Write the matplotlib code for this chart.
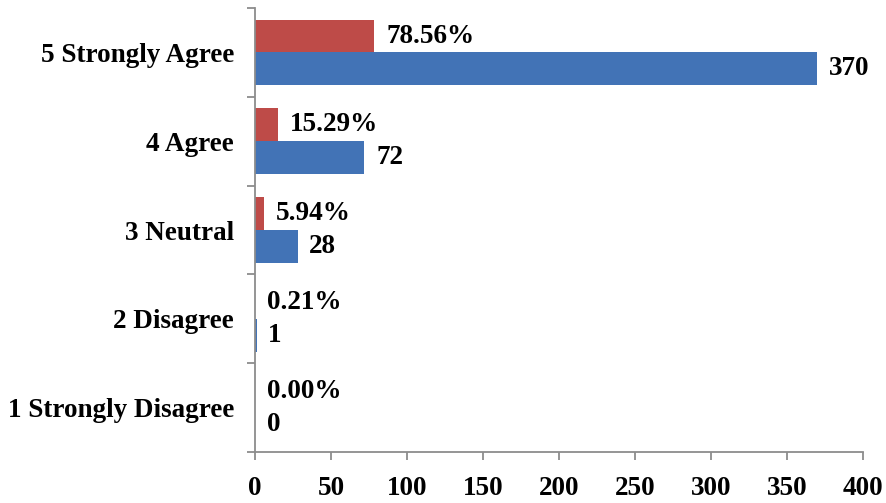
import matplotlib.pyplot as plt
import numpy as np

# response categories, bottom to top
categories = ['1 Strongly Disagree', '2 Disagree', '3 Neutral', '4 Agree', '5 Strongly Agree']
counts = [0, 1, 28, 72, 370]
percents = [0.00, 0.21, 5.94, 15.29, 78.56]

RED = '#BE4B48'
BLUE = '#4273B6'
GREY = '#8C8C8C'
FS = 19.5

plt.rcParams['font.family'] = ['Liberation Serif', 'DejaVu Serif']
plt.rcParams['font.weight'] = 'bold'

fig = plt.figure(figsize=(8.86, 5.03), dpi=100)
ax = fig.add_axes([0.2878, 0.1014, 0.6862, 0.8826])

y = np.arange(len(categories))
h = 0.37
ax.barh(y + h / 2, percents, height=h, color=RED)
ax.barh(y - h / 2, counts, height=h, color=BLUE)

for yi, p, c in zip(y, percents, counts):
    ax.annotate(f'{p:.2f}%', (p, yi + h / 2), xytext=(8.5, 0), textcoords='offset points',
                va='center', ha='left', fontsize=FS, fontweight='bold')
    ax.annotate(f'{c}', (c, yi - h / 2), xytext=(8.5, 0), textcoords='offset points',
                va='center', ha='left', fontsize=FS, fontweight='bold')

ax.set_xlim(0, 400)
ax.set_ylim(-0.5, len(categories) - 0.5)
ax.set_xticks(np.arange(0, 401, 50))
ax.set_yticks(y)
ax.set_yticklabels(categories)
ax.set_yticks(np.arange(-0.5, len(categories)), minor=True)

for s in ['top', 'right']:
    ax.spines[s].set_visible(False)
for s in ['left', 'bottom']:
    ax.spines[s].set_color(GREY)
    ax.spines[s].set_linewidth(1.3)

ax.tick_params(axis='y', which='major', length=0, pad=15, labelsize=FS)
ax.tick_params(axis='y', which='minor', length=6, width=1.3, color=GREY)
ax.tick_params(axis='x', length=6, width=1.3, color=GREY, pad=11, labelsize=FS)
for lab in ax.get_xticklabels() + ax.get_yticklabels():
    lab.set_fontweight('bold')

fig.savefig('out.png', dpi=100)
